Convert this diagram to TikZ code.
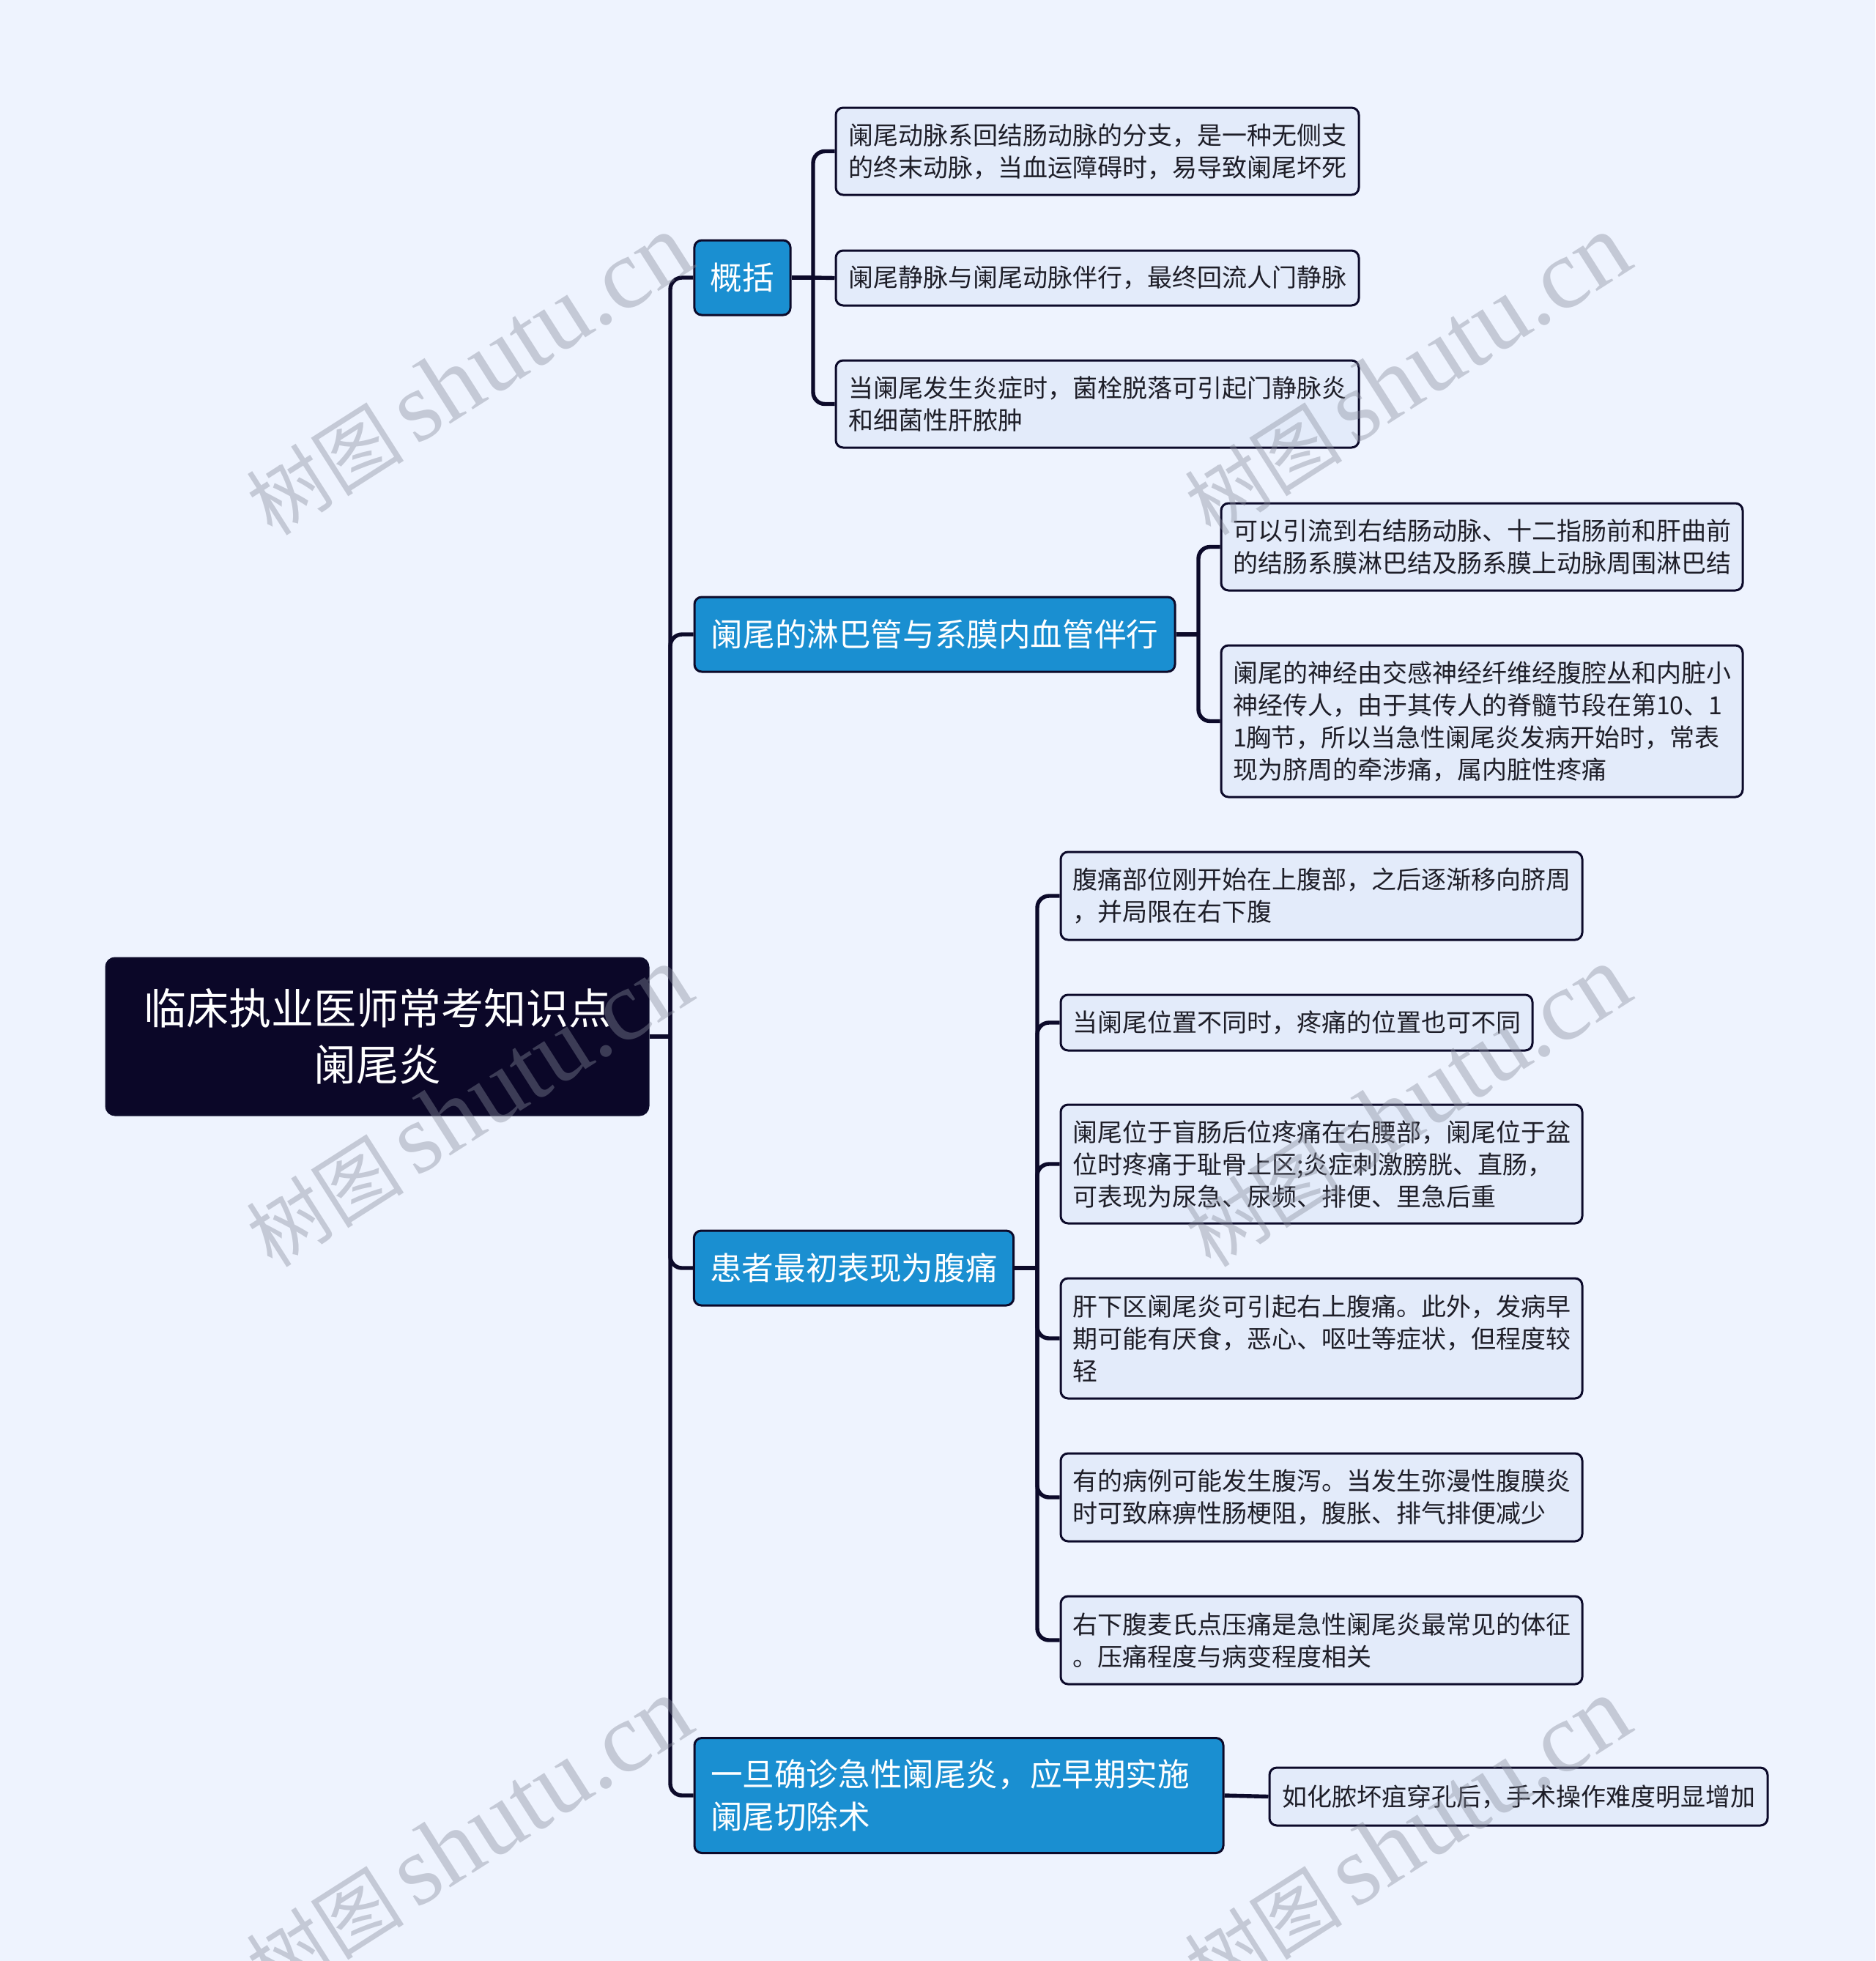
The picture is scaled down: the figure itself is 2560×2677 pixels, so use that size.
\documentclass[tikz,border=0pt]{standalone}
\usepackage{fontspec}
\setmainfont{Noto Sans CJK SC}
\newfontfamily\wmcjk{Noto Sans CJK SC}
\newfontfamily\wmlat{Liberation Serif}
\definecolor{bgc}{RGB}{238,243,254}
\definecolor{dk}{RGB}{12,10,42}
\definecolor{rootc}{RGB}{11,7,40}
\definecolor{lonec}{RGB}{26,143,209}
\definecolor{ltwoc}{RGB}{227,235,250}
\definecolor{txt}{RGB}{30,30,40}
\definecolor{wmc}{RGB}{135,140,155}
\tikzset{
  rootbox/.style={draw=dk, line width=1.5pt, fill=rootc, rounded corners=6pt, text=white,
    font=\fontsize{29}{38.5}\selectfont, align=center, inner sep=4pt,
    minimum width=370pt, minimum height=107pt},
  onebox/.style={draw=dk, line width=1.5pt, fill=lonec, rounded corners=5pt, text=white,
    font=\fontsize{21.8}{29}\selectfont, align=left, inner xsep=11pt, inner ysep=4pt,
    minimum height=51pt},
  twobox/.style={draw=dk, line width=1.5pt, fill=ltwoc, rounded corners=5pt, text=txt,
    font=\fontsize{17}{22}\selectfont, align=left, inner xsep=8pt, inner ysep=4pt},
  conn/.style={draw=dk, line width=2.7pt, rounded corners=8pt},
  wmark/.style={text=wmc, text opacity=0.4, rotate=32.5, inner sep=0pt}
}
\newcommand{\wmtext}{\fontsize{54}{54}\wmcjk 树图\hspace{8pt}\fontsize{68}{68}\wmlat shutu.cn}
\begin{document}
\begin{tikzpicture}[x=0.5pt,y=-0.5pt]
\fill[bgc] (0,0) rectangle (2560,2677);
\useasboundingbox (0,0) rectangle (2560,2677);

% root
\node[rootbox] (root) at (515,1415) {临床执业医师常考知识点\\阑尾炎};

% level 1
\node[onebox, minimum width=65.5pt] (g1) at (1013.5,379) {概括};
\node[onebox, minimum width=328pt] (g2) at (1276,866) {阑尾的淋巴管与系膜内血管伴行};
\node[onebox, minimum width=217.5pt] (g3) at (1165.5,1731) {患者最初表现为腹痛};
\node[onebox, minimum width=361pt, minimum height=78.5pt, text width=339pt] (g4) at (1309,2451) {一旦确诊急性阑尾炎，应早期实施\\阑尾切除术};

% level 2 under g1
\node[twobox, minimum width=357pt, minimum height=59.5pt] (c1) at (1498,206.5) {阑尾动脉系回结肠动脉的分支，是一种无侧支\\的终末动脉，当血运障碍时，易导致阑尾坏死};
\node[twobox, minimum width=357pt, minimum height=37.5pt] (c2) at (1498,379.5) {阑尾静脉与阑尾动脉伴行，最终回流人门静脉};
\node[twobox, minimum width=357pt, minimum height=59.5pt] (c3) at (1498,551.5) {当阑尾发生炎症时，菌栓脱落可引起门静脉炎\\和细菌性肝脓肿};

% level 2 under g2
\node[twobox, minimum width=356pt, minimum height=59.5pt] (d1) at (2023,746.5) {可以引流到右结肠动脉、十二指肠前和肝曲前\\的结肠系膜淋巴结及肠系膜上动脉周围淋巴结};
\node[twobox, minimum width=356pt, minimum height=103.5pt] (d2) at (2023,984.5) {阑尾的神经由交感神经纤维经腹腔丛和内脏小\\神经传人，由于其传人的脊髓节段在第10、1\\1胸节，所以当急性阑尾炎发病开始时，常表\\现为脐周的牵涉痛，属内脏性疼痛};

% level 2 under g3
\node[twobox, minimum width=356pt, minimum height=60pt] (e1) at (1804,1223) {腹痛部位刚开始在上腹部，之后逐渐移向脐周\\，并局限在右下腹};
\node[twobox, minimum width=322pt, minimum height=38pt] (e2) at (1770,1396) {当阑尾位置不同时，疼痛的位置也可不同};
\node[twobox, minimum width=356pt, minimum height=81pt] (e3) at (1804,1589) {阑尾位于盲肠后位疼痛在右腰部，阑尾位于盆\\位时疼痛于耻骨上区;炎症刺激膀胱、直肠，\\可表现为尿急、尿频、排便、里急后重};
\node[twobox, minimum width=356pt, minimum height=82pt] (e4) at (1804,1827) {肝下区阑尾炎可引起右上腹痛。此外，发病早\\期可能有厌食，恶心、呕吐等症状，但程度较\\轻};
\node[twobox, minimum width=356pt, minimum height=60pt] (e5) at (1804,2044) {有的病例可能发生腹泻。当发生弥漫性腹膜炎\\时可致麻痹性肠梗阻，腹胀、排气排便减少};
\node[twobox, minimum width=356pt, minimum height=60pt] (e6) at (1804,2239) {右下腹麦氏点压痛是急性阑尾炎最常见的体征\\。压痛程度与病变程度相关};

% level 2 under g4
\node[twobox, minimum width=340pt, minimum height=39.5pt] (f1) at (2073,2452.5) {如化脓坏疽穿孔后，手术操作难度明显增加};

% connectors
\coordinate (j0) at (915,1415);
\draw[conn] (root.east) -- (j0);
\foreach \n in {g1,g2,g3,g4} \draw[conn] (j0) |- (\n.west);

\coordinate (j1) at (1110,379);
\draw[conn] (g1.east) -- (j1);
\draw[conn] (j1) |- (c1.west);
\draw[conn] (j1) -- (c2.west);
\draw[conn] (j1) |- (c3.west);

\coordinate (j2) at (1636,866);
\draw[conn] (g2.east) -- (j2);
\draw[conn] (j2) |- (d1.west);
\draw[conn] (j2) |- (d2.west);

\coordinate (j3) at (1416,1731);
\draw[conn] (g3.east) -- (j3);
\foreach \n in {e1,e2,e3,e4,e5,e6} \draw[conn] (j3) |- (\n.west);

\draw[conn] (g4.east) -- (f1.west);

% watermarks
\node[wmark] (w1) at (640,512) {\wmtext};
\node[wmark] (w2) at (1921,512) {\wmtext};
\node[wmark] (w3) at (640,1511) {\wmtext};
\node[wmark] (w4) at (1921,1511) {\wmtext};
\node[wmark] (w5) at (640,2510) {\wmtext};
\node[wmark] (w6) at (1921,2510) {\wmtext};
\end{tikzpicture}
\end{document}
